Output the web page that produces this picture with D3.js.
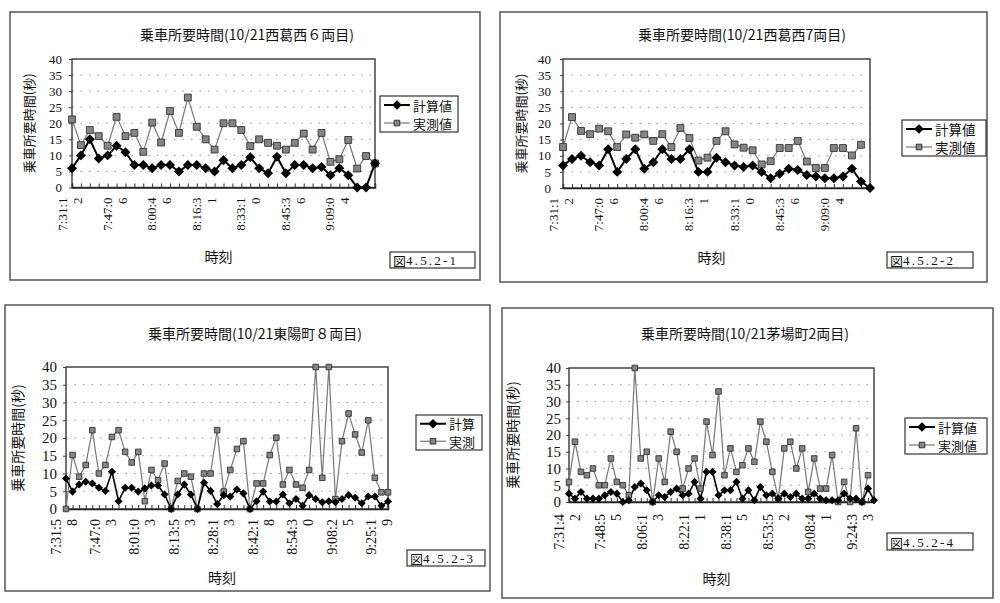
<!DOCTYPE html>
<html lang="ja">
<head>
<meta charset="UTF-8">
<title>乗車所要時間</title>
<script src="https://cdn.jsdelivr.net/npm/d3@7"></script>
<style>
  body { margin: 0; background: #fff; }
  text { font-family: "Liberation Serif", "DejaVu Serif", serif; fill: #111; }
  .jp { font-family: "Noto Sans CJK JP", sans-serif; }
</style>
</head>
<body>
<svg id="fig" width="1000" height="603"></svg>
<script>
// ---- data ----
var yTicks = [0, 5, 10, 15, 20, 25, 30, 35, 40];

// 図4.5.2-1  西葛西 6両目
var title1 = "乗車所要時間(10/21西葛西６両目)";
var timeLabels1 = ["7:31:12", "7:47:06", "8:00:46", "8:16:31", "8:33:10", "8:45:36", "9:09:04"];
var calc1 = [6, 10, 15, 9, 10, 13, 11, 7, 7, 6, 7, 7, 5, 7, 7, 6, 5, 8.5, 6, 7, 9.4, 6, 4.4, 9.6, 4.4, 7, 7, 6, 6.4, 3.8, 6, 3.8, 0, 0, 7.5];
var meas1 = [21.2, 13.2, 17.9, 16, 13, 22, 16, 17, 11.1, 20.2, 14, 23.8, 17, 28, 18.9, 15, 11.8, 20, 20, 17.9, 12.9, 15, 13.9, 13, 11.8, 13.9, 16.8, 11.8, 17, 8, 8.8, 14.8, 5.9, 9.8, 7.5];

// 図4.5.2-2  西葛西 7両目
var title2 = "乗車所要時間(10/21西葛西7両目)";
var timeLabels2 = ["7:31:12", "7:47:06", "8:00:46", "8:16:31", "8:33:10", "8:45:36", "9:09:04"];
var calc2 = [7, 9, 10, 8, 7, 12, 5, 9, 12, 6, 8, 12, 9, 9, 12, 5, 5, 9.4, 8, 7, 6.5, 7, 5, 3, 4.4, 6, 5.6, 4, 3.6, 3, 3, 3.6, 6, 2, 0];
var meas2 = [12.7, 22, 17.7, 16.7, 18.4, 17.6, 12.7, 16.6, 15.6, 16.6, 14.6, 16.7, 12.7, 18.6, 15.5, 8.5, 9.4, 14.6, 17.6, 13.5, 12.5, 11.7, 7.3, 8.3, 12.4, 12.4, 14.6, 8.2, 6.2, 6.2, 12.4, 12.4, 10.1, 13.4, null];

// 図4.5.2-3  東陽町 8両目
var title3 = "乗車所要時間(10/21東陽町８両目)";
var timeLabels3 = ["7:31:58", "7:47:03", "8:01:03", "8:13:53", "8:28:13", "8:42:18", "8:54:30", "9:08:25", "9:25:19"];
var calc3 = [8.6, 4.9, 6.9, 7.7, 7.2, 6, 5.1, 10.5, 2.2, 6, 6, 4.9, 5.8, 6.6, 6.6, 4.1, 0, 4.1, 6.9, 4.1, 0, 7.4, 5.1, 1.4, 3.9, 3.5, 5.5, 4.4, 0, 2.2, 4.9, 2.1, 2.1, 4.1, 1.6, 2.8, 0.9, 3.9, 2.8, 1.9, 2.2, 1.9, 2.8, 3.9, 3.2, 1.6, 3.5, 3.5, 0.9, 2.1];
var meas3 = [0, 15.2, 9.1, 12.4, 22.2, 10, 12.4, 20.3, 22.2, 16.1, 13.1, 16.1, 2.2, 11, 8.1, 12.8, 0, 7.9, 10, 9.1, 0, 10, 10, 22.2, 4.9, 11, 16.9, 19.1, 0, 7.2, 7.2, 15.2, 20.1, 6.9, 11, 6.9, 6, 11, 40, 8.8, 40, 2.8, 19.1, 26.9, 21, 15.9, 25, 8.8, 4.7, 4.7];

// 図4.5.2-4  茅場町 2両目
var title4 = "乗車所要時間(10/21茅場町2両目)";
var timeLabels4 = ["7:31:42", "7:48:55", "8:06:13", "8:22:11", "8:38:15", "8:53:52", "9:08:41", "9:24:33"];
var calc4 = [2.5, 1, 3, 1, 1, 1, 2, 3, 2.5, 0, 0.5, 4.5, 5.5, 3.5, 0, 2, 1.5, 3, 4, 2, 2.5, 6, 1, 9, 9, 2, 3.5, 3.5, 6, 1, 3.5, 0.5, 4.5, 2, 2.5, 1, 2.5, 1.5, 2.5, 1, 1, 2.5, 1, 0.5, 0.5, 0.5, 2.5, 1, 1, 0, 4, 0.5];
var meas4 = [6, 18, 9, 8, 10, 5, 5, 13, 6, 5, 2, 40, 13, 15, 0, 13, 6, 21, 15, 4, 10, 13, 4, 24, 14, 33, 8, 16, 9, 11, 16, 12, 24, 18, 9, 1, 16, 18, 10, 16, 3, 13, 4, 4, 14, 0, 6, 0, 22, 0, 8, null];

// ---- layout of the four panels ----
var panels = [
  { title: title1, labels: timeLabels1, every: 5, calc: calc1, meas: meas1, names: ["計算値", "実測値"], fig: "図4.5.2-1",
    frame: [10, 12, 470, 268], plot: [72, 59, 375, 187.5], titleY: 40, titleX: 247,
    yTitleX: 28, yTitleFont: 13, xTitleY: 262, yFont: 13, yPad: 10, lblFont: 13, lblGap: 10, lblLH: 15,
    legend: [380, 96, 78, 36, 13], figBox: [390, 252, 85, 16], mk: 4.2, lw: 2 },
  { title: title2, labels: timeLabels2, every: 5, calc: calc2, meas: meas2, names: ["計算値", "実測値"], fig: "図4.5.2-2",
    frame: [500, 12, 487, 270], plot: [563, 59, 870, 188], titleY: 40, titleX: 742,
    yTitleX: 520, yTitleFont: 13, xTitleY: 263, yFont: 13, yPad: 12, lblFont: 13, lblGap: 10, lblLH: 15,
    legend: [902, 120, 84, 36, 13.5], figBox: [887, 252, 86, 16], mk: 4.2, lw: 2 },
  { title: title3, labels: timeLabels3, every: 6, calc: calc3, meas: meas3, names: ["計算", "実測"], fig: "図4.5.2-3",
    frame: [5, 305, 485, 286], plot: [66, 367, 388, 509], titleY: 339, titleX: 255,
    yTitleX: 17, yTitleFont: 14, xTitleY: 583, yFont: 15, yPad: 9, lblFont: 14, lblGap: 10, lblLH: 16,
    legend: [416, 415, 66, 35, 13], figBox: [407, 550, 78, 16], mk: 3.4, lw: 1.6 },
  { title: title4, labels: timeLabels4, every: 7, calc: calc4, meas: meas4, names: ["計算値", "実測値"], fig: "図4.5.2-4",
    frame: [502, 308, 491, 290], plot: [569, 368, 874, 502], titleY: 339, titleX: 745,
    yTitleX: 512, yTitleFont: 14, xTitleY: 584, yFont: 15, yPad: 8, lblFont: 14, lblGap: 12, lblLH: 16,
    legend: [905, 418, 82, 36, 13], figBox: [887, 533, 86, 17], mk: 3.4, lw: 1.6 }
];

var svg = d3.select("#fig");
var diamond = d3.symbol().type(d3.symbolDiamond2);
var square = d3.symbol().type(d3.symbolSquare2);

panels.forEach(function(p) {
  var g = svg.append("g");
  var px0 = p.plot[0], py0 = p.plot[1], px1 = p.plot[2], py1 = p.plot[3];

  //outer chart frame
  g.append("rect")
    .attr("x", p.frame[0]).attr("y", p.frame[1])
    .attr("width", p.frame[2]).attr("height", p.frame[3])
    .attr("fill", "none").attr("stroke", "#555").attr("stroke-width", 1.5);

  var x = d3.scalePoint().domain(d3.range(p.calc.length)).range([px0, px1]);
  var y = d3.scaleLinear().domain([0, 40]).range([py1, py0]);

  //dotted grid
  g.selectAll(".grid").data(yTicks.slice(1, -1)).enter().append("line")
    .attr("x1", px0).attr("x2", px1)
    .attr("y1", function(d) { return y(d); }).attr("y2", function(d) { return y(d); })
    .attr("stroke", "#999").attr("stroke-width", 1).attr("stroke-dasharray", "1.5,7");

  //plot border
  g.append("rect")
    .attr("x", px0).attr("y", py0).attr("width", px1 - px0).attr("height", py1 - py0)
    .attr("fill", "none").attr("stroke", "#444").attr("stroke-width", 1.5);

  //y axis
  var ya = g.append("g").attr("transform", "translate(" + px0 + ",0)")
    .call(d3.axisLeft(y).tickValues(yTicks).tickSize(3).tickPadding(p.yPad - 3));
  ya.select(".domain").remove();
  ya.selectAll("text").style("font-family", "'Liberation Serif', 'DejaVu Serif', serif")
    .style("font-size", p.yFont + "px").attr("fill", "#111");
  ya.selectAll("line").attr("stroke", "#444");

  //x axis ticks (inward)
  var xa = g.append("g").attr("transform", "translate(0," + py1 + ")")
    .call(d3.axisBottom(x).tickSize(-4).tickFormat(""));
  xa.select(".domain").attr("stroke", "#222").attr("stroke-width", 1.5);
  xa.selectAll("line").attr("stroke", "#333");

  //rotated two-line time labels
  p.labels.forEach(function(t, i) {
    var cx = x(i * p.every);
    var tx = g.append("text")
      .attr("transform", "translate(" + (cx - 2) + "," + (py1 + p.lblGap) + ") rotate(-90)")
      .attr("text-anchor", "end")
      .style("font-size", p.lblFont + "px");
    tx.append("tspan").attr("x", 0).attr("y", -p.lblLH / 2).attr("dominant-baseline", "central").text(t.slice(0, 6));
    tx.append("tspan").attr("x", 0).attr("y", p.lblLH / 2).attr("dominant-baseline", "central").text(t.slice(6));
  });

  //series lines
  var line = d3.line()
    .defined(function(d) { return d != null; })
    .x(function(d, i) { return x(i); })
    .y(function(d) { return y(d); });

  g.append("path").datum(p.meas).attr("d", line)
    .attr("fill", "none").attr("stroke", "#777").attr("stroke-width", 1.2);
  g.append("path").datum(p.calc).attr("d", line)
    .attr("fill", "none").attr("stroke", "#000").attr("stroke-width", p.lw);

  var mArea = Math.pow(p.mk * 2, 2);
  g.selectAll(".sq").data(p.meas.map(function(v, i) { return [i, v]; }).filter(function(d) { return d[1] != null; }))
    .enter().append("path")
    .attr("d", square.size(mArea * 0.85)())
    .attr("transform", function(d) { return "translate(" + x(d[0]) + "," + y(d[1]) + ")"; })
    .attr("fill", "#858585").attr("stroke", "#333").attr("stroke-width", 0.9);
  g.selectAll(".dm").data(p.calc.map(function(v, i) { return [i, v]; }))
    .enter().append("path")
    .attr("d", diamond.size(mArea * 0.9)())
    .attr("transform", function(d) { return "translate(" + x(d[0]) + "," + y(d[1]) + ")"; })
    .attr("fill", "#000");

  //titles
  g.append("text").attr("class", "jp").attr("x", p.titleX).attr("y", p.titleY)
    .attr("text-anchor", "middle").style("font-size", "14px").text(p.title);
  g.append("text").attr("class", "jp")
    .attr("transform", "translate(" + p.yTitleX + "," + ((py0 + py1) / 2) + ") rotate(-90)")
    .attr("text-anchor", "middle").attr("dominant-baseline", "central")
    .style("font-size", p.yTitleFont + "px").text("乗車所要時間(秒)");
  g.append("text").attr("class", "jp").attr("x", (px0 + px1) / 2 - 5).attr("y", p.xTitleY)
    .attr("text-anchor", "middle").style("font-size", "14px").text("時刻");

  //legend
  var L = p.legend;
  g.append("rect").attr("x", L[0]).attr("y", L[1]).attr("width", L[2]).attr("height", L[3])
    .attr("fill", "#fff").attr("stroke", "#333").attr("stroke-width", 1.2);
  [0, 1].forEach(function(k) {
    var ly = L[1] + L[3] * (k === 0 ? 0.25 : 0.75);
    var lx0 = L[0] + 4, lx1 = L[0] + 30;
    g.append("line").attr("x1", lx0).attr("x2", lx1).attr("y1", ly).attr("y2", ly)
      .attr("stroke", k === 0 ? "#000" : "#777").attr("stroke-width", k === 0 ? 2 : 1.2);
    g.append("path")
      .attr("d", (k === 0 ? diamond.size(60) : square.size(40))())
      .attr("transform", "translate(" + (lx0 + lx1) / 2 + "," + ly + ")")
      .attr("fill", k === 0 ? "#000" : "#858585").attr("stroke", k === 0 ? "none" : "#333");
    g.append("text").attr("class", "jp").attr("x", lx1 + 3).attr("y", ly)
      .attr("dominant-baseline", "central").style("font-size", L[4] + "px").text(p.names[k]);
  });

  //figure number box
  var F = p.figBox;
  g.append("rect").attr("x", F[0]).attr("y", F[1]).attr("width", F[2]).attr("height", F[3])
    .attr("fill", "#fff").attr("stroke", "#333").attr("stroke-width", 1.2);
  var ft = g.append("text").attr("x", F[0] + 3).attr("y", F[1] + F[3] / 2)
    .attr("dominant-baseline", "central").style("font-size", "13px");
  ft.append("tspan").attr("class", "jp").text(p.fig.slice(0, 1));
  ft.append("tspan").style("letter-spacing", "2.2px").text(p.fig.slice(1));
});
</script>
</body>
</html>
